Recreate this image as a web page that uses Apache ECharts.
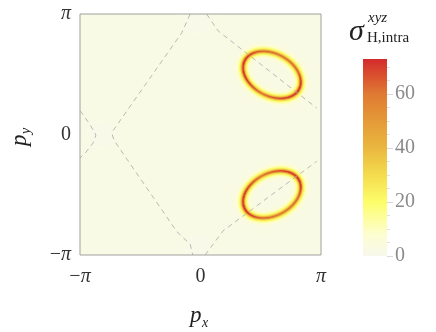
<!DOCTYPE html>
<html>
<head>
<meta charset="utf-8">
<script src="https://cdn.jsdelivr.net/npm/echarts@6/dist/echarts.min.js"></script>
<style>
html, body { margin: 0; padding: 0; background: #fff; }
#chart { width: 436px; height: 332px; }
</style>
</head>
<body>
<div id="chart"></div>
<script>
var PI = Math.PI;

// colour scale of sigma_H,intra (value -> colour)
var scaleMax = 73;
var colorValues = [0, 8, 20, 30, 40, 50, 60, 73];
var colorHex = ['#f7f8ec', '#fdfed0', '#fdfd6a', '#f4dc4e', '#eab73f', '#e59a38', '#df7a33', '#d42b2b'];
var colorbarLabels = [0, 20, 40, 60];
var colorbarMinor = [5, 10, 15, 25, 30, 35, 45, 50, 55, 65, 70];

// momentum grid and background level
var gridSize = 241;
var background = 2;

// the two hot rings (ellipses in p-space)
var ringX = [1.87, 1.87];
var ringY = [1.56, -1.56];
var ringA = [0.80, 0.80];
var ringB = [0.55, 0.55];
var ringTilt = [-28, 28];
var ringMirror = [1, -1];
var coreWidth = 0.03;
var haloWidth = 0.08;
var haloHeight = 22;
// peak height of the ring core, by angle from the major axis
var peakAngle = [0, 45, 90, 135, 180, 225, 270, 315, 360];
var peakValue = [62, 44, 40, 44, 62, 56, 40, 52, 62];

// faint lighter spots
var spotX = [-2.6, -0.05, -0.05];
var spotY = [0, 2.95, -2.95];
var spotDepth = 1.2;
var spotRadius = 0.35;

// dashed contours
var contourLeft = [[-0.27, 3.14], [-0.49, 2.65], [-2.28, 0.10], [-2.30, -0.01], [-2.25, -0.16], [-0.62, -2.53], [-0.27, -2.86], [-0.2, -3.14]];
var contourUpperRight = [[0.16, 3.14], [0.46, 2.70], [3.03, 0.69]];
var contourLowerRight = [[0.12, -3.14], [0.59, -2.51], [3.03, -0.70]];
var contourEdge = [[-3.14, 0.62], [-2.93, 0.33], [-2.75, 0.04], [-2.73, -0.03], [-2.80, -0.22], [-3.0, -0.48], [-3.14, -0.61]];

var xTicks = [-PI, 0, PI];
var yTicks = [-PI, 0, PI];

function peakAt(t) {
    var deg = (t * 180 / PI + 360) % 360;
    for (var k = 0; k < peakAngle.length - 1; k++) {
        if (deg <= peakAngle[k + 1]) {
            var f = (deg - peakAngle[k]) / (peakAngle[k + 1] - peakAngle[k]);
            return peakValue[k] + f * (peakValue[k + 1] - peakValue[k]);
        }
    }
    return peakValue[0];
}

function fieldAt(x, y) {
    var v = background;
    for (var s = 0; s < spotX.length; s++) {
        var dd = (x - spotX[s]) * (x - spotX[s]) + (y - spotY[s]) * (y - spotY[s]);
        v -= spotDepth * Math.exp(-dd / (spotRadius * spotRadius));
    }
    for (var r = 0; r < ringX.length; r++) {
        var th = ringTilt[r] * PI / 180;
        var dx = x - ringX[r], dy = y - ringY[r];
        var u = dx * Math.cos(th) + dy * Math.sin(th);
        var w = -dx * Math.sin(th) + dy * Math.cos(th);
        var a = ringA[r], b = ringB[r];
        var rr = Math.sqrt(u * u / (a * a) + w * w / (b * b)) || 1e-6;
        var g = Math.sqrt(Math.pow(u / (a * a), 2) + Math.pow(w / (b * b), 2)) / rr || 1e-6;
        var d = (rr - 1) / g;
        var t = Math.atan2(ringMirror[r] * w / b, u / a);
        v += peakAt(t) / (1 + (d / coreWidth) * (d / coreWidth));
        v += haloHeight * Math.exp(-d * d / (2 * haloWidth * haloWidth));
    }
    return Math.max(0, Math.min(v, scaleMax));
}

var cats = [];
for (var i = 0; i < gridSize; i++) cats.push(String(i));
var cells = [];
for (var i = 0; i < gridSize; i++) {
    for (var j = 0; j < gridSize; j++) {
        var px = -PI + (i + 0.5) * 2 * PI / gridSize;
        var py = -PI + (j + 0.5) * 2 * PI / gridSize;
        cells.push([i, j, fieldAt(px, py)]);
    }
}

var stops = colorValues.map(function (v, k) {
    return { offset: v / scaleMax, color: colorHex[k] };
});

function piLabel(v) {
    if (v < -1) return '{m|\u2212}{p|\u03c0}';
    if (v > 1) return '{p|\u03c0}';
    return '{n|0}';
}
var piRich = {
    m: { fontFamily: 'Liberation Serif', fontSize: 20, color: '#333' },
    p: { fontFamily: 'Liberation Serif', fontStyle: 'italic', fontSize: 20, color: '#333' },
    n: { fontFamily: 'Liberation Serif', fontSize: 20, color: '#333' }
};

function contour(pts) {
    return {
        type: 'line',
        xAxisIndex: 1,
        yAxisIndex: 1,
        data: pts,
        symbol: 'none',
        silent: true,
        lineStyle: { color: '#a8a8a8', width: 0.8, type: [5, 4] },
        z: 5
    };
}

// sample the colour scale for the visualMap
var vmColors = [];
for (var k = 0; k <= 73; k++) {
    var idx = 0;
    while (idx < colorValues.length - 2 && k > colorValues[idx + 1]) idx++;
    var f = (k - colorValues[idx]) / (colorValues[idx + 1] - colorValues[idx]);
    vmColors.push(echarts.color.lerp(f, [colorHex[idx], colorHex[idx + 1]]));
}

var chart = echarts.init(document.getElementById('chart'));
var option = {
    animation: false,
    backgroundColor: '#fff',
    grid: [
        { left: 80, top: 14, width: 241, height: 241, show: true, borderColor: '#a0a0a0', borderWidth: 1, backgroundColor: 'transparent', z: 10 },
        { left: 363, top: 59, width: 24, height: 197 }
    ],
    xAxis: [
        { type: 'category', gridIndex: 0, data: cats, show: false, position: 'top' },
        {
            type: 'value', gridIndex: 0, min: -PI, max: PI, position: 'bottom',
            axisLine: { show: false }, splitLine: { show: false },
            axisTick: { show: true, inside: true, length: 5, customValues: [0], lineStyle: { color: '#999' } },
            axisLabel: { customValues: xTicks, margin: 12, formatter: piLabel, rich: piRich }
        },
        { type: 'category', gridIndex: 1, data: ['c'], show: false }
    ],
    yAxis: [
        { type: 'category', gridIndex: 0, data: cats, show: false, position: 'right' },
        {
            type: 'value', gridIndex: 0, min: -PI, max: PI, position: 'left',
            axisLine: { show: false }, splitLine: { show: false },
            axisTick: { show: true, inside: true, length: 5, customValues: [0], lineStyle: { color: '#999' } },
            axisLabel: { customValues: yTicks, margin: 9, formatter: piLabel, rich: piRich }
        },
        {
            type: 'value', gridIndex: 1, min: 0, max: scaleMax, position: 'right',
            axisLine: { show: false }, splitLine: { show: false },
            axisTick: { show: true, length: 6, customValues: colorbarLabels, lineStyle: { color: '#d8d8d8' } },
            axisLabel: { customValues: colorbarLabels, margin: 8, color: '#8a8a8a', fontFamily: 'Liberation Serif', fontSize: 20 }
        },
        {
            type: 'value', gridIndex: 1, min: 0, max: scaleMax, position: 'right', offset: 0,
            axisLine: { show: false }, splitLine: { show: false },
            axisTick: { show: true, length: 3, customValues: colorbarMinor, lineStyle: { color: '#e0e0e0' } },
            axisLabel: { show: false }
        }
    ],
    visualMap: {
        show: false,
        type: 'continuous',
        seriesIndex: 0,
        min: 0,
        max: scaleMax,
        inRange: { color: vmColors }
    },
    series: [
        {
            type: 'heatmap',
            xAxisIndex: 0,
            yAxisIndex: 0,
            data: cells,
            progressive: 0,
            silent: true
        },
        contour(contourLeft),
        contour(contourUpperRight),
        contour(contourLowerRight),
        contour(contourEdge),
        {
            type: 'bar',
            xAxisIndex: 2,
            yAxisIndex: 2,
            data: [scaleMax],
            barWidth: '100%',
            silent: true,
            itemStyle: { color: new echarts.graphic.LinearGradient(0, 1, 0, 0, stops) }
        }
    ],
    graphic: [
        { type: 'text', left: 349, top: 17, style: { text: '\u03c3', font: 'italic 30px "Liberation Serif"', fill: '#222' } },
        { type: 'text', left: 368, top: 11, style: { text: 'xyz', font: 'italic 15px "Liberation Serif"', fill: '#222' } },
        { type: 'text', left: 367, top: 31, style: { text: 'H,intra', font: '15px "Liberation Serif"', fill: '#222' } },
        { type: 'text', left: 190, top: 304, style: { text: 'p', font: 'italic 23px "Liberation Serif"', fill: '#222' } },
        { type: 'text', left: 202, top: 316, style: { text: 'x', font: 'italic 14px "Liberation Serif"', fill: '#222' } },
        {
            type: 'group', x: 8, y: 146, rotation: PI / 2,
            children: [
                { type: 'text', x: 0, y: 0, style: { text: 'p', font: 'italic 23px "Liberation Serif"', fill: '#222', textVerticalAlign: 'top' } },
                { type: 'text', x: 12, y: 11, style: { text: 'y', font: 'italic 14px "Liberation Serif"', fill: '#222', textVerticalAlign: 'top' } }
            ]
        }
    ]
};

option && chart.setOption(option);
</script>
</body>
</html>
